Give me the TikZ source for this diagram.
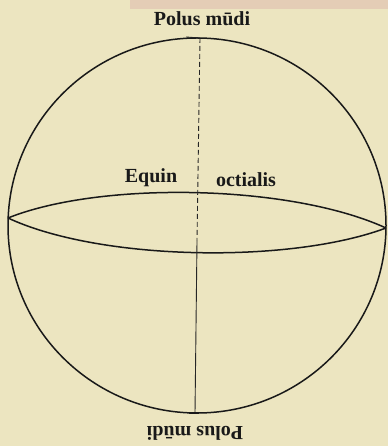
\documentclass[tikz,border=0pt]{standalone}
\usepackage{fontspec}
\setmainfont{Liberation Serif}
\usetikzlibrary{calc}
\begin{document}
\begin{tikzpicture}[x=1pt,y=1pt,
  ink/.style={draw=black!90, line width=1.5pt},
  thin ink/.style={draw=black!85, line width=0.9pt},
  lbl/.style={font=\fontsize{20}{20}\selectfont\bfseries, text=black!90, inner sep=0pt}]
\fill[fill={rgb,255:red,236;green,229;blue,192}] (0,0) rectangle (388,446);
\fill[fill={rgb,255:red,228;green,205;blue,182}] (130,446) rectangle (388,437);
\useasboundingbox (0,0) rectangle (388,446);
% points
\coordinate (C) at (197,220.5);
\coordinate (L) at (8,228);
\coordinate (R) at (386,218);
\coordinate (T) at (200,408);
\coordinate (Tk) at (186,409);
\coordinate (M) at (197,205);
\coordinate (B) at (195,33);
\coordinate (Bl) at (189,33);
\coordinate (Br) at (199,33);
% circle
\draw[ink] (C) ellipse [x radius=189, y radius=187.5];
% equator
\draw[ink] (L) .. controls (100,265) and (290,262) .. (R);
\draw[ink] (L) .. controls (100,185) and (290,182) .. (R);
% axis
\draw[thin ink] (Tk) -- (T);
\draw[thin ink, dash pattern=on 5pt off 3pt] (T) -- (M);
\draw[thin ink] (M) -- (B);
\draw[ink] (Bl) -- (Br);
% labels
\node[lbl] (top) at (202,427) {Polus mūdi};
\node[lbl, rotate=180] (bot) at (195,13) {Polus mūdi};
\node[lbl] (eq1) at (151,268) {Equin};
\node[lbl] (eq2) at (246,266) {octialis};
\end{tikzpicture}
\end{document}
